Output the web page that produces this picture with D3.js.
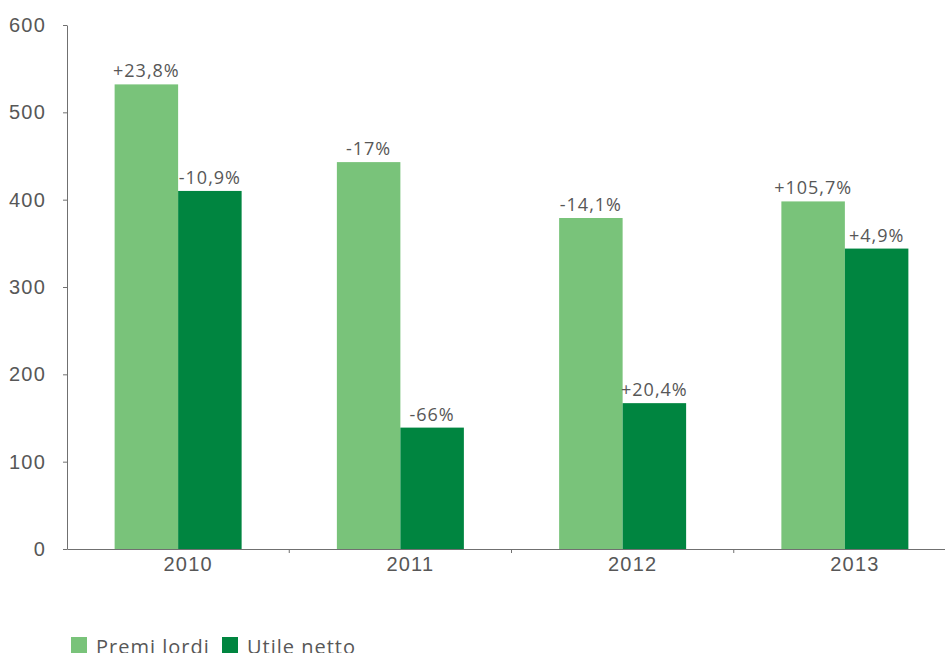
<!DOCTYPE html>
<html>
<head>
<meta charset="utf-8">
<script src="https://cdn.jsdelivr.net/npm/d3@7"></script>
<style>
	body { margin: 0; background: #fff; }
	svg { display: block; font-family: "Open Sans", sans-serif; }
	.axis text { fill: #575757; letter-spacing: 1.2px; }
	.axis path, .axis line { stroke: #707070; }
</style>
</head>
<body>
<div id="chart"></div>
<script>
// data
var years       = ['2010', '2011', '2012', '2013'];
var seriesNames = ['Premi lordi', 'Utile netto'];
var premiLordi  = [532, 443, 379, 398];
var utileNetto  = [410, 139, 167, 344];
var premiLabels = ['+23,8%', '-17%', '-14,1%', '+105,7%'];
var utileLabels = ['-10,9%', '-66%', '+20,4%', '+4,9%'];
var yTicks      = [0, 100, 200, 300, 400, 500, 600];
var colors      = ['#79c37a', '#008540'];

var width  = 945,
	height = 653,
	margin = {top: 25, right: -11, bottom: 104, left: 67};

var viewWidth  = width - margin.left - margin.right,
	viewHeight = height - margin.top - margin.bottom;

var svg = d3.select('#chart').append('svg')
	.attr('width', width)
	.attr('height', height);

var vis = svg.append('g')
	.attr('transform', 'translate(' + margin.left + ',' + margin.top + ')');

var x0 = d3.scaleBand()
	.domain(years)
	.range([0, viewWidth]);

var barW = 63.5;
var x1 = d3.scaleBand()
	.domain(seriesNames)
	.range([x0.bandwidth() / 2 - barW, x0.bandwidth() / 2 + barW]);

var y = d3.scaleLinear()
	.domain([0, 600])
	.range([viewHeight, 0]);

// y axis
var yAxis = d3.axisLeft(y)
	.tickValues(yTicks)
	.tickSize(4)
	.tickPadding(17)
	.tickSizeOuter(0);
var gy = vis.append('g').attr('class', 'axis').call(yAxis);
gy.selectAll('text').style('font-size', '20px');

// bars
var rows = years.map(function(yr, i) {
	return {year: yr, values: [
		{name: seriesNames[0], value: premiLordi[i], label: premiLabels[i]},
		{name: seriesNames[1], value: utileNetto[i], label: utileLabels[i]}
	]};
});

var group = vis.append('g')
	.selectAll('g')
	.data(rows)
	.enter().append('g')
	.attr('transform', function(d) { return 'translate(' + x0(d.year) + ',0)'; });

group.selectAll('rect')
	.data(function(d) { return d.values; })
	.enter().append('rect')
	.attr('x', function(d) { return x1(d.name); })
	.attr('y', function(d) { return y(d.value); })
	.attr('width', x1.bandwidth())
	.attr('height', function(d) { return viewHeight - y(d.value); })
	.attr('fill', function(d, i) { return colors[i]; });

group.selectAll('text')
	.data(function(d) { return d.values; })
	.enter().append('text')
	.attr('x', function(d) { return x1(d.name) + x1.bandwidth() / 2; })
	.attr('y', function(d) { return y(d.value) - 7; })
	.attr('text-anchor', 'middle')
	.style('font-size', '18px')
	.style('letter-spacing', '1px')
	.style('fill', '#575757')
	.text(function(d) { return d.label; });

// x axis
var xAxis = d3.axisBottom(x0)
	.tickSize(0)
	.tickPadding(8)
	.tickSizeOuter(0);
var gx = vis.append('g')
	.attr('class', 'axis')
	.attr('transform', 'translate(0,' + viewHeight + ')')
	.call(xAxis);
gx.selectAll('text')
	.attr('dx', 10)
	.style('font-size', '20px');

// separators between categories
gx.selectAll('.sep')
	.data(years.slice(1))
	.enter().append('line')
	.attr('class', 'sep')
	.attr('x1', function(d) { return x0(d); })
	.attr('x2', function(d) { return x0(d); })
	.attr('y1', 0)
	.attr('y2', 4);

// legend
var legend = svg.append('g')
	.attr('transform', 'translate(71,637)');
var legendX = [0, 151];
var item = legend.selectAll('g')
	.data(seriesNames)
	.enter().append('g')
	.attr('transform', function(d, i) { return 'translate(' + legendX[i] + ',0)'; });
item.append('rect')
	.attr('width', 16)
	.attr('height', 16)
	.attr('fill', function(d, i) { return colors[i]; });
item.append('text')
	.attr('x', 25)
	.attr('y', 17)
	.style('font-size', '20px')
	.style('letter-spacing', '1px')
	.style('fill', '#575757')
	.text(function(d) { return d; });
</script>
</body>
</html>
